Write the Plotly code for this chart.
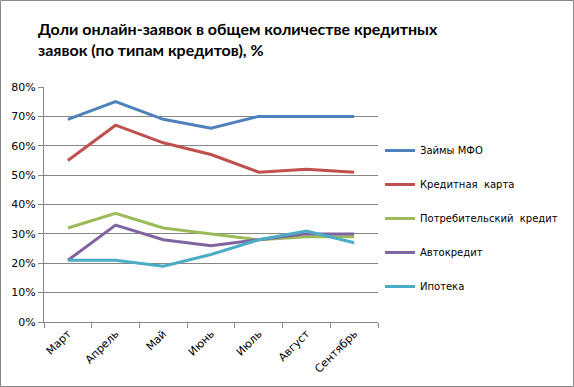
import plotly.graph_objects as go

months = ["Март", "Апрель", "Май", "Июнь", "Июль", "Август", "Сентябрь"]
mfo = [0.69, 0.75, 0.69, 0.66, 0.70, 0.70, 0.70]
card = [0.55, 0.67, 0.61, 0.57, 0.51, 0.52, 0.51]
consumer = [0.32, 0.37, 0.32, 0.30, 0.28, 0.29, 0.29]
auto = [0.21, 0.33, 0.28, 0.26, 0.28, 0.30, 0.30]
mortgage = [0.21, 0.21, 0.19, 0.23, 0.28, 0.31, 0.27]

series = [
    ("Займы МФО", mfo, "#4F81BD"),
    ("Кредитная  карта", card, "#C0504D"),
    ("Потребительский  кредит", consumer, "#9BBB59"),
    ("Автокредит", auto, "#8064A2"),
    ("Ипотека", mortgage, "#4BACC6"),
]

W, H = 574, 387
L, R, T, B = 44, 378, 87, 322

fig = go.Figure()
for i, (name, vals, color) in enumerate(series):
    fig.add_trace(go.Scatter(x=months, y=vals, name=name, mode="lines",
                             line=dict(color=color, width=3),
                             legendgroup=f"g{i}"))

pw, ph = R - L, B - T
fig.add_shape(type="rect", xref="paper", yref="paper",
              x0=(0.5 - L) / pw, x1=(W - 0.5 - L) / pw,
              y0=(B - (H - 0.5)) / ph, y1=(B - 0.5) / ph,
              line=dict(color="#888888", width=1), layer="below")

fig.update_layout(
    width=W, height=H,
    margin=dict(l=L, r=W - R, t=T, b=H - B, autoexpand=False),
    paper_bgcolor="white", plot_bgcolor="white",
    font=dict(family="DejaVu Sans", size=10, color="#000000"),
    title=dict(text="Доли онлайн-заявок в общем количестве кредитных<br>заявок (по типам кредитов), %",
               x=38 / W, xanchor="left", y=1 - 35 / H, yanchor="top",
               font=dict(family="Lato", size=16, color="#000000", weight="bold")),
    showlegend=True,
    legend=dict(x=(380 - L) / pw, xanchor="left", y=(B - 136) / ph, yanchor="top",
                font=dict(family="DejaVu Sans", size=10),
                tracegroupgap=15, itemwidth=30, bgcolor="rgba(0,0,0,0)"),
    xaxis=dict(showline=True, linecolor="#868686", linewidth=1,
               ticks="outside", ticklen=5, tickcolor="#868686",
               tickson="boundaries", tickangle=-45, showgrid=False,
               tickfont=dict(size=11),
               range=[-0.5, 6.5], fixedrange=True),
    yaxis=dict(range=[0, 0.8], dtick=0.1, tickformat=".0%",
               showline=True, linecolor="#868686", linewidth=1,
               ticks="outside", ticklen=5, tickcolor="#868686",
               tickfont=dict(size=11),
               gridcolor="#868686", gridwidth=1, zeroline=False),
)

fig.write_html("out.html", config={"displayModeBar": False},
               post_script="document.body.style.margin='0';")
